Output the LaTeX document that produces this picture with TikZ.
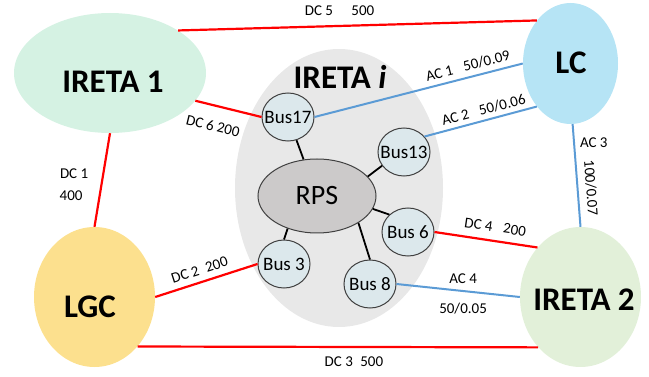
\documentclass[tikz,border=0pt]{standalone}
\usepackage{fontspec}
\setmainfont{Carlito}
\usetikzlibrary{shapes.geometric}
\definecolor{mint}{RGB}{213,242,227}
\definecolor{lcblue}{RGB}{182,228,245}
\definecolor{lgcyellow}{RGB}{252,224,142}
\definecolor{paleGreen}{RGB}{226,240,217}
\definecolor{irgray}{RGB}{232,232,232}
\definecolor{rpsgray}{RGB}{204,202,202}
\definecolor{busfill}{RGB}{220,232,236}
\definecolor{acblue}{RGB}{91,155,213}
\newcommand{\ctext}[1]{\makebox[0pt]{#1}}
\tikzset{
  area/.style={ellipse, inner sep=0pt},
  areaname/.style={inner sep=0pt, font=\fontsize{33}{36}\selectfont\bfseries},
  bus/.style={ellipse, draw=black!75, line width=1pt, fill=busfill, inner sep=0pt,
    minimum width=52pt, minimum height=48pt, font=\fontsize{19}{20}\selectfont},
  dc/.style={draw=red, line width=2.2pt},
  ac/.style={draw=acblue, line width=2pt},
  tie/.style={draw=black, line width=1.8pt},
  lab/.style={inner sep=1pt, font=\fontsize{15}{16}\selectfont},
}
\begin{document}
\begin{tikzpicture}[x=1pt,y=-1pt]
  \useasboundingbox (0,0) rectangle (649,377);
  \node (irt) [area, fill=irgray, minimum width=208pt, minimum height=278pt] at (339,188) {};
  \node (irtname) [areaname] at (340,77) {IRETA \textit{i}};
  \node (ireta1) [area, fill=mint, minimum width=192pt, minimum height=120pt] at (110,73) {};
  \node (ireta1name) [areaname] at (113,82) {IRETA 1};
  \node (lc) [area, fill=lcblue, minimum width=95pt, minimum height=121pt] at (570.5,63.5) {};
  \node (lcname) [areaname] at (571,63) {LC};
  \node (lgc) [area, fill=lgcyellow, minimum width=121pt, minimum height=140pt] at (94.5,297) {};
  \node (lgcname) [areaname] at (90,307) {LGC};
  \node (ireta2) [area, fill=paleGreen, minimum width=121pt, minimum height=140pt] at (580.5,297) {};
  \node (ireta2name) [areaname] at (584,300) {IRETA 2};

  \node (rps) [ellipse, draw=black!75, line width=1pt, fill=rpsgray, inner sep=0pt,
    minimum width=118pt, minimum height=74pt, font=\fontsize{28}{30}\selectfont] at (317,196) {RPS};
  \node (b17) [bus] at (288,117) {\ctext{Bus17}};
  \node (b13) [bus] at (404,152) {\ctext{Bus13}};
  \node (b6) [bus] at (408,232) {\ctext{Bus 6}};
  \node (b8) [bus] at (370,284) {\ctext{Bus 8}};
  \node (b3) [bus] at (284,264) {\ctext{Bus 3}};

  \draw[tie] (b17) -- (rps);
  \draw[tie] (b13.212) -- (rps.21);
  \draw[tie] (b6.137) -- (rps.-13);
  \draw[tie] (b8.north) -- (rps.-33);
  \draw[tie] (b3.north) -- (rps.228);

  \draw[dc] (ireta1.32) -- node[lab, above=8pt, pos=.45] (l5) {DC 5 \quad 500} (lc.128);
  \draw[dc] (ireta1.-18) -- node[lab, below=13pt, sloped, pos=.34] (l6) {DC 6 200} (b17.west);
  \draw[dc] (ireta1.south) -- node[lab, left=13pt, pos=.43] (l1a) {DC 1}
    node[lab, left=15pt, pos=.67] (l1b) {400} (lgc.north);
  \draw[dc] (lgc.east) -- node[lab, above=5pt, sloped, pos=.47] (l2) {DC 2\enspace 200} (b3.west);
  \draw[dc] (lgc.-49.5) -- node[lab, below=8pt, pos=.54] (l3) {DC 3\enspace 500} (ireta2.230);
  \draw[dc] (b6.east) -- node[lab, above=7pt, sloped, pos=.57] (l4) {DC 4 \enspace 200} (ireta2.131);

  \draw[ac] (b17.east) -- node[lab, above=4pt, sloped, pos=.75] (la1) {AC 1 \enspace 50/0.09} (lc.west);
  \draw[ac] (b13.37) -- node[lab, above=3pt, sloped, pos=.55] (la2) {AC 2 \enspace 50/0.06} (lc.232);
  \draw[ac] (lc.-88) -- node[lab, right=4pt, pos=.18] (la3) {AC 3}
    node[lab, above=6pt, sloped, pos=.63] (lb3) {100/0.07} (ireta2.north);
  \draw[ac] (b8.east) -- node[lab, above=5pt, pos=.54] (la4) {AC 4}
    node[lab, below=10pt, pos=.54] (lb4) {50/0.05} (ireta2.west);
\end{tikzpicture}
\end{document}
